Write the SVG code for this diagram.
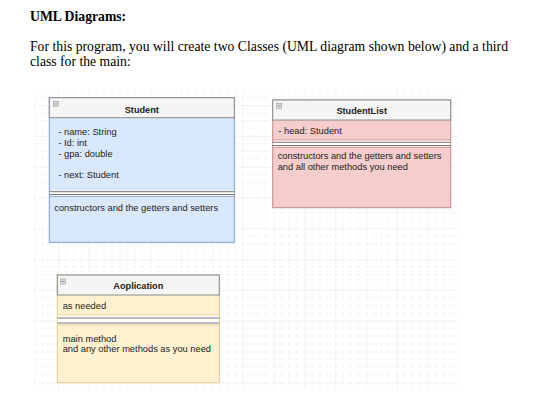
<svg xmlns="http://www.w3.org/2000/svg" width="534" height="412" viewBox="0 0 534 412">
  <defs>
    <pattern id="grid" patternUnits="userSpaceOnUse" x="58" y="74.3" width="30.8" height="30.8">
      <path d="M7.7 0V30.8M15.4 0V30.8M23.1 0V30.8M0 7.7H30.8M0 15.4H30.8M0 23.1H30.8" stroke="#f5f5f5" stroke-width="0.8" fill="none"/>
      <path d="M0.4 0V30.8M0 0.4H30.8" stroke="#ececec" stroke-width="0.8" fill="none"/>
    </pattern>
    <g id="minus">
      <rect x="0" y="0" width="5" height="5" fill="#dcdcdc" stroke="#999" stroke-width="0.6"/>
      <line x1="1.2" y1="2.5" x2="3.8" y2="2.5" stroke="#666" stroke-width="0.7"/>
    </g>
  </defs>
  <style>
    .h1 { font-family: "Liberation Serif", "Times New Roman", serif; font-size: 13.7px; font-weight: bold; fill: #000; }
    .p { font-family: "Liberation Serif", "Times New Roman", serif; font-size: 13.7px; fill: #000; }
    .t { font-family: "Liberation Sans", Arial, sans-serif; font-size: 9.2px; font-weight: bold; fill: #222; text-anchor: middle; }
    .m { font-family: "Liberation Sans", Arial, sans-serif; font-size: 9.3px; fill: #222; }
    .hdr { fill: #f5f5f5; stroke: #8a8a8a; stroke-width: 1; }
    .sep { fill: #ffffff; }
    .sl { stroke: #666; stroke-width: 0.9; }
    .blue { fill: #dae8fc; stroke: #7d9bd0; stroke-width: 1; }
    .red { fill: #f4cdcc; stroke: #c28a88; stroke-width: 1; }
    .yel { fill: #fdf1cf; stroke: #e0cc90; stroke-width: 1; }
  </style>
  <rect width="534" height="412" fill="#ffffff"/>
  <text class="h1" x="30" y="21">UML Diagrams:</text>
  <text class="p" x="30" y="50.5" textLength="478" lengthAdjust="spacingAndGlyphs">For this program, you will create two Classes (UML diagram shown below) and a third</text>
  <text class="p" x="30" y="65.5">class for the main:</text>

  <rect x="34" y="89.7" width="424.6" height="299.3" fill="url(#grid)"/>

  <g id="student">
    <rect class="blue" x="49.3" y="97.7" width="185" height="144.6"/>
    <rect class="hdr" x="49.3" y="97.7" width="185" height="20"/>
    <use href="#minus" x="53.3" y="101.5"/>
    <text class="t" x="141.8" y="113.3">Student</text>
    <text class="m" x="58.3" y="134.7">- name: String</text>
    <text class="m" x="58.3" y="146">- Id: int</text>
    <text class="m" x="58.3" y="156.5">- gpa: double</text>
    <text class="m" x="58.3" y="178.3">- next: Student</text>
    <rect class="sep" x="49.8" y="190.5" width="184" height="5.6"/>
    <line class="sl" x1="49.3" y1="191.7" x2="234.3" y2="191.7"/>
    <line class="sl" x1="49.3" y1="194.5" x2="234.3" y2="194.5"/>
    <line x1="49.3" y1="196.4" x2="234.3" y2="196.4" stroke="#7d9bd0" stroke-width="0.8"/>
    <text class="m" x="54.3" y="211">constructors and the getters and setters</text>
  </g>

  <g id="studentlist">
    <rect class="red" x="272.7" y="100" width="178" height="107.7"/>
    <rect class="hdr" x="272.7" y="100" width="178" height="20"/>
    <use href="#minus" x="276.5" y="103.5"/>
    <text class="t" x="361.7" y="114.3">StudentList</text>
    <text class="m" x="278.3" y="134.3">- head: Student</text>
    <line x1="272.7" y1="140" x2="450.7" y2="140" stroke="#c28a88" stroke-width="0.8"/>
    <rect class="sep" x="273.2" y="140.6" width="177" height="6.2"/>
    <line class="sl" x1="272.7" y1="142.3" x2="450.7" y2="142.3"/>
    <line class="sl" x1="272.7" y1="145.5" x2="450.7" y2="145.5"/>
    <line x1="272.7" y1="147.3" x2="450.7" y2="147.3" stroke="#c28a88" stroke-width="0.8"/>
    <text class="m" x="277.7" y="159">constructors and the getters and setters</text>
    <text class="m" x="277.7" y="170">and all other methods you need</text>
  </g>

  <g id="application">
    <rect class="yel" x="57.3" y="275" width="162" height="107.7"/>
    <rect class="hdr" x="57.3" y="275" width="162" height="20"/>
    <use href="#minus" x="60.5" y="279"/>
    <text class="t" x="138.3" y="289">Aoplication</text>
    <text class="m" x="62.7" y="308.7">as needed</text>
    <line x1="57.3" y1="315" x2="219.3" y2="315" stroke="#e0cc90" stroke-width="0.8"/>
    <rect class="sep" x="57.8" y="315.6" width="161" height="9"/>
    <line class="sl" x1="57.3" y1="318" x2="219.3" y2="318"/>
    <line class="sl" x1="57.3" y1="323" x2="219.3" y2="323"/>
    <line x1="57.3" y1="325" x2="219.3" y2="325" stroke="#e0cc90" stroke-width="0.8"/>
    <text class="m" x="62.7" y="341.7">main method</text>
    <text class="m" x="62.7" y="352.3">and any other methods as you need</text>
  </g>

  <g id="connectors"></g>
</svg>
